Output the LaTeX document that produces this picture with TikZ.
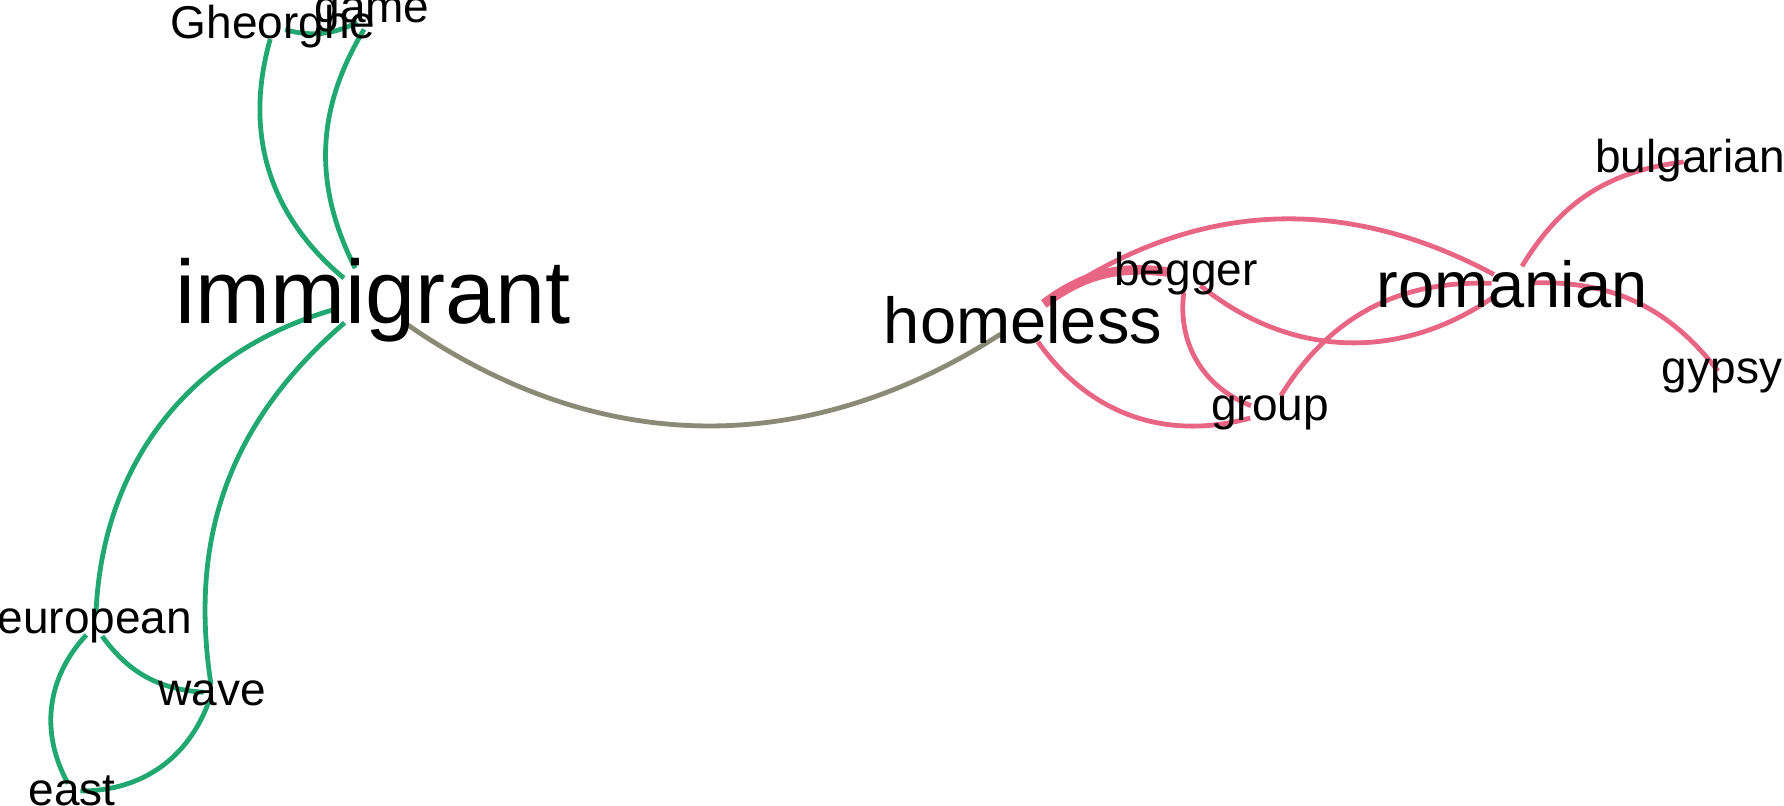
\documentclass[tikz,border=0pt]{standalone}
\usepackage{fontspec}
\setmainfont{Liberation Sans}
\usetikzlibrary{backgrounds}

\definecolor{grn}{RGB}{32,168,112}
\definecolor{pnk}{RGB}{232,102,132}
\definecolor{olv}{RGB}{138,138,118}

\begin{document}
\begin{tikzpicture}[x=0.5pt,y=-0.5pt,
	word/.style={circle,inner sep=0pt,minimum size=#1},
	small/.style={font=\fontsize{23}{27}\selectfont},
	mid/.style={font=\fontsize{32.5}{38}\selectfont},
	big/.style={font=\fontsize{45}{52}\selectfont},
	green link/.style={draw=grn,line width=2.4pt},
	pink link/.style={draw=pnk,line width=2.4pt},
	grey link/.style={draw=olv,line width=2.4pt}]
	\useasboundingbox (0,0) rectangle (1784,806);

	\node[word=36pt,label={[big]center:immigrant}] (immigrant) at (373,300) {};
	\node[word=12pt,label={[small]center:Gheorghe}] (Gheorghe) at (273,27) {};
	\node[word=16pt,label={[small]center:game}] (game) at (372,15) {};
	\node[word=12pt,label={[small]center:european}] (european) at (95,626) {};
	\node[word=8pt,label={[small]center:wave}] (wave) at (212,693) {};
	\node[word=8pt,label={[small]center:east}] (east) at (72,791) {};
	\node[word=26pt,label={[mid]center:homeless}] (homeless) at (1023,320) {};
	\node[word=18pt,label={[small]center:begger}] (begger) at (1186,274) {};
	\node[word=20pt,label={[mid]center:romanian}] (romanian) at (1512,284) {};
	\node[word=20pt,label={[small]center:group}] (group) at (1270,413) {};
	\node[word=6pt,label={[small]center:bulgarian}] (bulgarian) at (1690,161) {};
	\node[word=6pt,label={[small]center:gypsy}] (gypsy) at (1722,376) {};

	\begin{scope}[on background layer]
	\path

	(immigrant) edge[green link,bend left=33] (Gheorghe)
	            edge[green link,bend left=29] (game)
	            edge[green link,bend right=36] (european)
	            edge[green link,bend right=29] (wave)
	            edge[grey link,bend right=34] (homeless)

	(Gheorghe) edge[green link,bend right=20] (game)

	(european) edge[green link,bend right=25] (wave)
	           edge[green link,bend right=36] (east)

	(wave) edge[green link,bend left=35] (east)

	(homeless) edge[pink link,line width=4.8pt,bend left=22] (begger)
	           edge[pink link,bend left=32] (romanian)
	           edge[pink link,bend right=35] (group)

	(begger) edge[pink link,bend right=38] (group)
	         edge[pink link,bend right=37] (romanian)

	(group) edge[pink link,bend left=30] (romanian)

	(romanian) edge[pink link,bend left=26] (bulgarian)
	           edge[pink link,bend left=27] (gypsy);
	\end{scope}

\end{tikzpicture}
\end{document}
